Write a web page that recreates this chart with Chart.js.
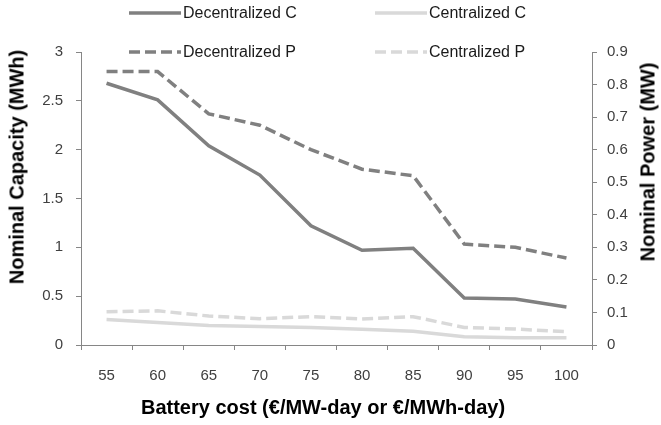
<!DOCTYPE html>
<html>
<head>
<meta charset="utf-8">
<script src="https://cdn.jsdelivr.net/npm/chart.js@4.4.0/dist/chart.umd.min.js"></script>
<style>
  body { margin: 0; background: #fff; }
  #wrap { position: relative; width: 661px; height: 425px; font-family: "Liberation Sans", Arial, sans-serif; }
  canvas { position: absolute; left: 0; top: 0; }
  .leg { position: absolute; display: flex; align-items: center; font-size: 16px; color: #1a1a1a; white-space: nowrap; }
  .leg svg { margin-right: 2px; }
  .title { position: absolute; font-weight: bold; font-size: 20px; color: #000; white-space: nowrap; transform: translate(-50%, -50%); }
  .rot { transform: translate(-50%, -50%) rotate(-90deg); }
</style>
</head>
<body>
<div id="wrap">
  <canvas id="chart" width="661" height="425"></canvas>
  <div id="legend"></div>
  <div class="title" style="left:323px;top:407px">Battery cost (€/MW-day or €/MWh-day)</div>
  <div class="title rot" style="left:17px;top:167px">Nominal Capacity (MWh)</div>
  <div class="title rot" style="left:648px;top:162px">Nominal Power (MW)</div>
</div>
<script>
// ─── Data ────────────────────────────────────────────────

const costs = ['55', '60', '65', '70', '75', '80', '85', '90', '95', '100'];

// capacity, MWh (left axis)
const decentralizedC = [2.68, 2.51, 2.04, 1.74, 1.22, 0.97, 0.99, 0.48, 0.47, 0.39];
const centralizedC   = [0.26, 0.23, 0.20, 0.19, 0.18, 0.16, 0.14, 0.085, 0.075, 0.075];

// power, MW (right axis)
const decentralizedP = [0.84, 0.84, 0.71, 0.675, 0.60, 0.54, 0.52, 0.31, 0.30, 0.267];
const centralizedP   = [0.102, 0.105, 0.089, 0.081, 0.087, 0.080, 0.087, 0.054, 0.049, 0.041];

const capTicks = [0, 3, 0.5];
const powTicks = [0, 0.9, 0.1];

const DARK = '#808080';
const LIGHT = '#d9d9d9';
const AXIS = '#868686';
const DASH = [11, 5];

// ─── Legend ──────────────────────────────────────────────

const legendItems = [
  { label: 'Decentralized C', color: DARK, dash: null, x: 129, y: 13 },
  { label: 'Centralized C', color: LIGHT, dash: null, x: 375, y: 13 },
  { label: 'Decentralized P', color: DARK, dash: DASH, x: 129, y: 52 },
  { label: 'Centralized P', color: LIGHT, dash: DASH, x: 375, y: 52 }
];

document.getElementById('legend').innerHTML = legendItems.map(it => `
  <div class="leg" style="left:${it.x}px;top:${it.y - 10}px;height:20px">
    <svg width="52" height="6"><line x1="0" y1="3" x2="52" y2="3" stroke="${it.color}" stroke-width="3.5"
      ${it.dash ? `stroke-dasharray="${it.dash.join(',')}"` : ''}/></svg>${it.label}
  </div>`).join('');

// ─── Chart ───────────────────────────────────────────────

function line(label, data, color, dash, axis) {
  return {
    label, data, yAxisID: axis,
    borderColor: color, backgroundColor: color,
    borderWidth: 3.5, borderDash: dash || [],
    pointRadius: 0, tension: 0, fill: false
  };
}

const tickFont = { family: '"Liberation Sans", Arial, sans-serif', size: 15 };
const plain = v => String(+v.toFixed(2));

new Chart(document.getElementById('chart').getContext('2d'), {
  type: 'line',
  data: {
    labels: costs,
    datasets: [
      line('Centralized P', centralizedP, LIGHT, DASH, 'y1'),
      line('Centralized C', centralizedC, LIGHT, null, 'y'),
      line('Decentralized P', decentralizedP, DARK, DASH, 'y1'),
      line('Decentralized C', decentralizedC, DARK, null, 'y')
    ]
  },
  options: {
    responsive: false,
    animation: false,
    devicePixelRatio: 1,
    layout: { padding: { top: 52, left: 0, right: 0, bottom: 0 } },
    plugins: { legend: { display: false }, tooltip: { enabled: false } },
    scales: {
      x: {
        offset: true,
        grid: { drawOnChartArea: false, tickLength: 5, color: AXIS, offset: true },
        border: { color: AXIS },
        ticks: { font: tickFont, color: '#404040', padding: 17, maxRotation: 0 },
        afterFit: s => { s.height = 80; }
      },
      y: {
        position: 'left',
        min: capTicks[0], max: capTicks[1],
        grid: { drawOnChartArea: false, tickLength: 5, color: AXIS },
        border: { color: AXIS },
        ticks: { stepSize: capTicks[2], font: tickFont, color: '#404040', padding: 13, callback: plain },
        afterFit: s => { s.width = 81; }
      },
      y1: {
        position: 'right',
        min: powTicks[0], max: powTicks[1],
        grid: { drawOnChartArea: false, tickLength: 5, color: AXIS },
        border: { color: AXIS },
        ticks: { stepSize: powTicks[2], font: tickFont, color: '#404040', padding: 10, callback: plain },
        afterFit: s => { s.width = 69; }
      }
    }
  }
});
</script>
</body>
</html>
